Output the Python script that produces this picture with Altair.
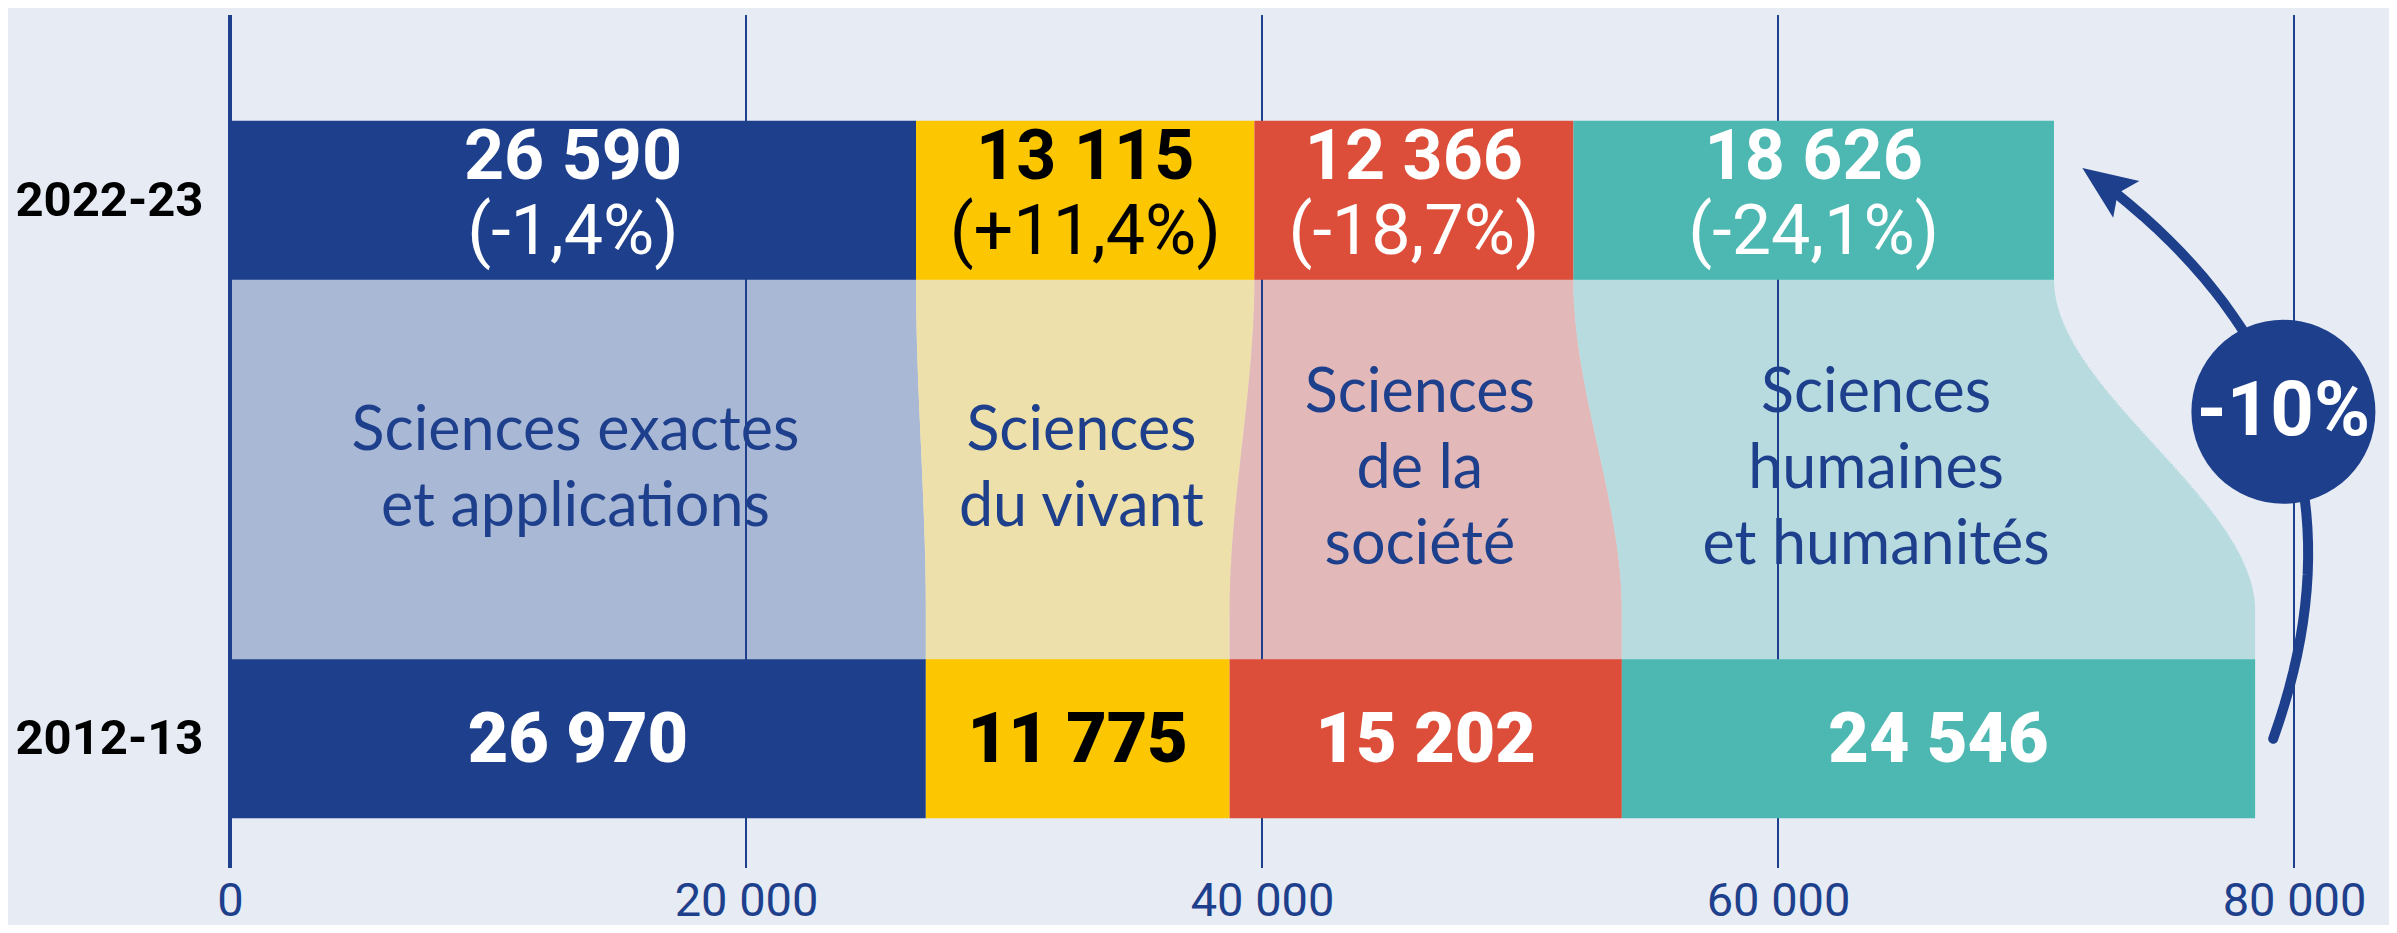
import altair as alt
import pandas as pd
import numpy as np

# ---------------- data ----------------
categories = ["Sciences exactes et applications", "Sciences du vivant",
              "Sciences de la société", "Sciences humaines et humanités"]
label_lines = ["Sciences exactes\net applications", "Sciences\ndu vivant",
               "Sciences\nde la\nsociété", "Sciences\nhumaines\net humanités"]
years = ["2022-23", "2012-13"]
values_2022 = [26590, 13115, 12366, 18626]
values_2012 = [26970, 11775, 15202, 24546]
x_ticks = [0, 20000, 40000, 60000, 80000]

# ---------------- style ----------------
DARK = "#1D3F8C"
BG = "#E6EBF4"
bar_colors = ["#1D3F8C", "#FCC700", "#DD4E3A", "#4DB8B2"]
band_colors = ["#A9B8D5", "#EEE0AA", "#E2B9B8", "#B8DBDF"]
text_colors = ["white", "black", "white", "white"]

W, H = 2064, 853
Y_MIN, Y_MAX = -0.240, 1.344
ROW = {years[0]: 1.0, years[1]: 0.0}
HALF = 0.1475
X_MAX = 80000
Y_BEND = 0.238
LINE_H = 76

px_x = W / X_MAX
px_y = H / (Y_MAX - Y_MIN)


def fmt(v):
    return f"{int(v):,}".replace(",", " ")


def cum(vals):
    s = np.concatenate([[0], np.cumsum(vals)])
    return s[:-1], s[1:]


s22, e22 = cum(values_2022)
s12, e12 = cum(values_2012)

bars = []
for yr, vals, st, en in [(years[0], values_2022, s22, e22), (years[1], values_2012, s12, e12)]:
    for i, c in enumerate(categories):
        pct = ""
        if yr == years[0]:
            p = (values_2022[i] / values_2012[i] - 1) * 100
            pct = "(" + f"{p:+.1f}".replace(".", ",") + "%)"
            if p < 0:
                pct = pct.replace("+", "")
        bars.append(dict(year=yr, cat=c, x=float(st[i]), x2=float(en[i]),
                         mid=float((st[i] + en[i]) / 2),
                         y=ROW[yr] - HALF, y2=ROW[yr] + HALF, yc=ROW[yr],
                         num=fmt(vals[i]), pct=pct, tcolor=text_colors[i]))
bars_df = pd.DataFrame(bars)

# bands between the two bars, built as thin horizontal slices
band_rows = []
N = 140
y_top, y_bot = 1 - HALF, HALF
ov = 1.2 / px_y  # slight overlap between slices (about 1 px)
for i, c in enumerate(categories):
    for k in range(N):
        t0, t1 = k / N, (k + 1) / N
        tm = (t0 + t1) / 2
        s = tm * tm * (3 - 2 * tm)
        ya = y_top + (Y_BEND - y_top) * t0 + (0.01 if k == 0 else 0)
        yb = y_top + (Y_BEND - y_top) * t1 - ov
        band_rows.append(dict(cat=c, y=ya, y2=yb,
                              x=float(s22[i] + (s12[i] - s22[i]) * s),
                              x2=float(e22[i] + (e12[i] - e22[i]) * s)))
    band_rows.append(dict(cat=c, y=Y_BEND, y2=y_bot - 0.01, x=float(s12[i]), x2=float(e12[i])))
bands_df = pd.DataFrame(band_rows)

# category labels, block centred between the bars
n_lines = [len(s.split("\n")) for s in label_lines]
lab_df = pd.DataFrame({
    "cat": categories,
    "label": label_lines,
    "x": [float((s22[i] + e22[i] + s12[i] + e12[i]) / 4) for i in range(4)],
    "y": [0.5 + (n - 1) / 2 * LINE_H / px_y for n in n_lines],
})

ticks_df = pd.DataFrame({"tick": x_ticks})

# arrow annotation (total 2012-13 -> total 2022-23)
tot22, tot12 = sum(values_2022), sum(values_2012)
P0 = np.array([tot12 + 700.0, 0.0])
P1 = np.array([tot12 + 5500.0, 0.642])
P2 = np.array([tot22 + 1100.0, 1.06])


def bez(t):
    return (1 - t) ** 2 * P0 + 2 * (1 - t) * t * P1 + t ** 2 * P2


arrow_df = pd.DataFrame([dict(t=t, x=bez(t)[0], y=bez(t)[1]) for t in np.linspace(0, 0.97, 40)])

d = 2 * (P2 - P1)
dpx = np.array([d[0] * px_x, d[1] * px_y])
dpx = dpx / np.linalg.norm(dpx)
angle = float(np.degrees(np.arctan2(dpx[0], dpx[1])) % 360)
head_x = P2[0] - 30 * dpx[0] / px_x
head_y = P2[1] - 30 * dpx[1] / px_y
head_df = pd.DataFrame([dict(x=head_x, y=head_y)])

circ = bez(0.52)
change = round((tot22 / tot12 - 1) * 100)
circ_df = pd.DataFrame([dict(x=circ[0], y=circ[1], label=f"{change:d}%")])

# ---------------- encodings ----------------
xs = alt.Scale(domain=[0, X_MAX], nice=False, zero=False)
ys = alt.Scale(domain=[Y_MIN, Y_MAX], nice=False, zero=False)

x_axis = alt.Axis(values=x_ticks, labelExpr="replace(format(datum.value, ','), ',', ' ')",
                  grid=False, domain=False, ticks=False, title=None, labelFlush=False,
                  labelFont="Roboto", labelFontSize=47, labelColor=DARK, labelPadding=10)
ylab_expr = f"datum.value == {ROW[years[0]]} ? '{years[0]}' : '{years[1]}'"
y_axis = alt.Axis(values=[ROW[years[1]], ROW[years[0]]], labelExpr=ylab_expr,
                  grid=False, domain=False, ticks=False, title=None, labelLimit=0,
                  labelFont="Roboto", labelFontSize=49, labelFontWeight="bold",
                  labelColor="black", labelPadding=27)


def X(f):
    return alt.X(f, scale=xs, axis=x_axis)


def Y(f):
    return alt.Y(f, scale=ys, axis=y_axis)


bands = alt.Chart(bands_df).mark_rect().encode(
    y=Y("y:Q"), y2="y2:Q", x=X("x:Q"), x2="x2:Q",
    color=alt.Color("cat:N", scale=alt.Scale(domain=categories, range=band_colors), legend=None),
)

cat_labels = alt.Chart(lab_df).mark_text(
    font="Lato", fontSize=61, color=DARK, lineBreak="\n", lineHeight=LINE_H,
    align="center", baseline="middle"
).encode(x=X("x:Q"), y=Y("y:Q"), text="label:N")

grid = alt.Chart(ticks_df).mark_rule(color=DARK).encode(
    x=X("tick:Q"),
    strokeWidth=alt.condition("datum.tick == 0", alt.value(4), alt.value(2)),
)

bar_layer = alt.Chart(bars_df).mark_rect().encode(
    x=X("x:Q"), x2="x2:Q", y=Y("y:Q"), y2="y2:Q",
    color=alt.Color("cat:N", scale=alt.Scale(domain=categories, range=bar_colors), legend=None),
)

top_df = bars_df[bars_df.year == years[0]]
bot_df = bars_df[bars_df.year == years[1]]

num_top = alt.Chart(top_df).mark_text(
    font="Roboto", fontSize=70, fontWeight="bold", align="center", baseline="middle", dy=-42
).encode(x=X("mid:Q"), y=Y("yc:Q"), text="num:N", color=alt.Color("tcolor:N", scale=None))

pct_top = alt.Chart(top_df).mark_text(
    font="Roboto", fontSize=70, align="center", baseline="middle", dy=33
).encode(x=X("mid:Q"), y=Y("yc:Q"), text="pct:N", color=alt.Color("tcolor:N", scale=None))

num_bot = alt.Chart(bot_df).mark_text(
    font="Roboto", fontSize=70, fontWeight=900, align="center", baseline="middle", dy=2
).encode(x=X("mid:Q"), y=Y("yc:Q"), text="num:N", color=alt.Color("tcolor:N", scale=None))

arrow = alt.Chart(arrow_df).mark_line(color=DARK, strokeWidth=10, strokeCap="round").encode(
    x=X("x:Q"), y=Y("y:Q"), order=alt.Order("t:Q"))

head = alt.Chart(head_df).mark_point(
    shape="M0,-1L0.75,0.8L0,0.45L-0.75,0.8Z", filled=True, size=3600, angle=angle,
    color=DARK, opacity=1
).encode(x=X("x:Q"), y=Y("y:Q"))

circle = alt.Chart(circ_df).mark_point(
    shape="circle", filled=True, size=184 * 184, color=DARK, opacity=1
).encode(x=X("x:Q"), y=Y("y:Q"))

circle_txt = alt.Chart(circ_df).mark_text(
    font="Roboto", fontSize=76, fontWeight="bold", color="white", align="center", baseline="middle"
).encode(x=X("x:Q"), y=Y("y:Q"), text="label:N")

chart = alt.layer(
    bands, cat_labels, grid, bar_layer, num_top, pct_top, num_bot, arrow, head, circle, circle_txt
).resolve_scale(color="independent").properties(
    width=W, height=H,
    autosize=alt.AutoSizeParams(type="none"),
    padding={"left": 222, "top": 7, "right": 95, "bottom": 57},
    background=BG,
).configure_view(stroke=None)

chart.save("out.html", embed_options={"renderer": "svg", "actions": False})
